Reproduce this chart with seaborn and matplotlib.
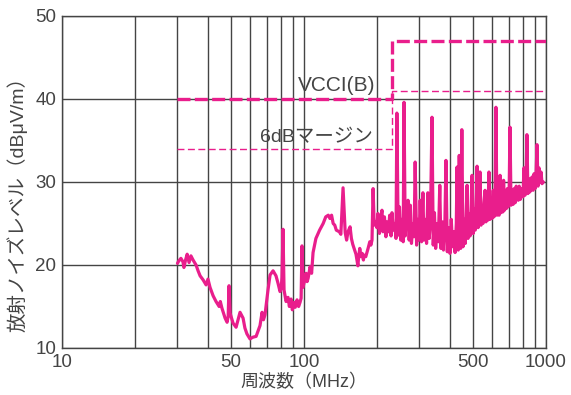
"""放射ノイズ測定結果 (VCCI クラスB 限度値との比較)."""
import matplotlib

matplotlib.use("Agg")
import matplotlib.pyplot as plt
import pandas as pd
import seaborn as sns

# 測定スペクトル (MHz, dBμV/m) - 図から読み取った値
freq_mhz = [
    30, 30.4, 31, 31.6, 31.9, 32.4, 32.9, 33.5, 34.1, 34.8, 35.8, 36.5, 37.2,
    38.3, 39.4, 40.1, 40.9, 42.1, 43.3, 44.6, 45.1, 45.8, 47.2, 48.1, 48.6,
    49.0, 49.5, 50.9, 52.4, 53.5, 54.4, 56.0, 57, 58.1, 59.8, 61.5, 63.4,
    64.5, 65.8, 67.1, 68, 69.0, 71.0, 72.4, 74.5, 76.6, 78.1, 79.6, 80.5,
    81.1, 81.9, 82.7, 84.3, 85.9, 87, 88.4, 89.5, 90.9, 92, 93.6, 95, 96.3,
    97.3, 98.1, 99.1, 102, 103, 104, 106, 107.5, 109, 112, 116, 120, 123,
    126, 128, 130, 132, 134, 136, 140, 142, 145, 148, 150, 152, 155, 157,
    159, 162, 164, 167, 168, 170, 172, 174, 176, 177, 180, 184, 187, 189,
    191, 193, 195, 198,
    200, 202, 205, 207, 210, 212, 215, 218, 220, 223, 226, 229, 231, 234,
    237, 240, 242, 245, 248, 251, 254, 257, 259, 262, 265, 269, 272, 275,
    278, 282, 285, 288, 292, 295, 299, 302, 306, 310, 313, 317, 321, 325,
    329, 333, 338, 342, 346, 350, 355, 359, 364, 368, 373, 377, 382, 386,
    391, 396, 401, 406, 411, 416, 421, 426, 429, 434, 438, 444, 449, 454,
    460, 464, 468, 472, 476, 481, 486, 490, 495, 500, 505, 510, 514, 519,
    524, 529, 534, 539, 544, 549, 554, 560, 565, 570, 575, 581, 587, 592,
    598, 605, 610, 616, 621, 627, 633, 640, 646, 652, 658, 664, 668, 674,
    680, 686, 692, 698, 704, 710, 717, 724, 731, 738, 746, 753, 760, 768,
    775, 783, 790, 795, 803, 811, 819, 827, 834, 842, 850, 858, 867, 875,
    884, 893, 901, 910, 918, 927, 936, 945, 954, 963, 975,
]
noise_db = [
    20.2, 20.5, 20.8, 20.4, 19.7, 20.6, 21.3, 20.3, 21.1, 20.6, 20.0, 19.3,
    18.7, 18.2, 17.6, 18.3, 17.3, 16.3, 15.6, 15.0, 15.6, 14.8, 13.6, 13.1,
    13.8, 17.5, 14.2, 13.0, 12.5, 13.5, 14.3, 13.6, 12.4, 11.7, 11.1, 11.3,
    11.4, 12.0, 12.7, 14.3, 13.4, 14.0, 17.0, 18.8, 19.3, 18.7, 17.8, 16.8,
    17.2, 18.5, 24.3, 17.0, 15.6, 16.1, 15.0, 15.9, 14.6, 15.5, 14.9, 15.8,
    15.0, 15.5, 16.0, 22.3, 17.3, 19.0, 18.0, 18.4, 19.8, 19.0, 21.5, 23.2,
    24.2, 25.0, 25.8, 26.0, 25.6, 26.0, 25.0, 24.8, 24.2, 24.0, 23.7, 29.3,
    23.9, 23.0, 24.0, 24.6, 23.2, 22.5, 21.8, 21.3, 19.9, 20.8, 22.0, 21.0,
    21.4, 20.6, 21.2, 21.0, 22.0, 22.8, 22.4, 23.0, 29.2, 24.8, 25.2,
    24.5, 26.2, 23.8, 25.5, 26.6, 24.0, 25.8, 23.4, 25.2, 24.0, 26.0, 23.5,
    26.3, 24.2, 25.0, 23.2, 38.3, 23.6, 27.0, 23.0, 25.5, 22.8, 39.6, 23.5,
    26.0, 27.8, 23.0, 27.2, 22.6, 25.0, 23.4, 32.4, 22.4, 25.5, 23.0, 27.8,
    22.8, 28.7, 23.0, 25.5, 22.6, 28.7, 23.2, 25.0, 37.8, 22.4, 26.3, 22.0,
    25.0, 22.8, 29.6, 22.0, 25.2, 21.8, 24.8, 32.6, 21.6, 24.5, 21.4, 25.5,
    22.2, 24.0, 21.5, 25.0, 31.8, 21.8, 33.2, 22.0, 36.3, 22.2, 25.5, 22.6,
    26.0, 29.6, 23.2, 26.2, 23.5, 26.5, 30.8, 23.8, 26.8, 24.2, 27.0, 31.9,
    24.5, 27.2, 31.2, 24.8, 27.0, 25.0, 27.5, 29.0, 25.2, 27.8, 25.4, 31.2,
    25.5, 28.0, 25.6, 29.0, 25.8, 28.0, 39.0, 26.0, 28.5, 26.0, 30.8, 26.3,
    28.6, 26.4, 30.2, 26.6, 28.8, 26.8, 29.2, 27.0, 28.5, 36.6, 27.2, 29.0,
    27.3, 29.2, 27.5, 29.5, 28.2, 27.8, 29.5, 27.9, 29.2, 28.7, 28.2, 31.7,
    28.4, 30.0, 35.7, 28.6, 30.4, 28.8, 30.2, 30.6, 29.0, 31.0, 29.2, 31.0,
    34.5, 29.5, 31.7, 30.0, 31.2, 29.8, 30.0,
]

# VCCI クラスB 限度値と 6dB マージン
limit_freq = [30, 230, 230, 1000]
vcci_db = [40, 40, 47, 47]
margin_db = [34, 34, 41, 41]

grid_freq = [20, 30, 40, 60, 70, 80, 90, 200, 300, 400, 600, 700, 800, 900]
xtick_freq = [10, 50, 100, 500, 1000]
ytick_db = [10, 20, 30, 40, 50]

MAGENTA = "#E91E8C"
GRAY = "#444444"

sns.set_theme(style="white")
plt.rcParams["font.family"] = ["Liberation Sans", "Noto Sans CJK JP"]

df = pd.DataFrame({"freq": freq_mhz, "level": noise_db})

fig = plt.figure(figsize=(5.71, 3.95), dpi=100)
ax = fig.add_axes([0.1086, 0.119, 0.8476, 0.8405])

sns.lineplot(data=df, x="freq", y="level", ax=ax, color=MAGENTA,
             linewidth=2.3, sort=False, estimator=None, zorder=3)
ax.plot(limit_freq, vcci_db, color=MAGENTA, linewidth=2.4,
        linestyle=(0, (3.9, 1.3)), zorder=4)
ax.plot(limit_freq, margin_db, color=MAGENTA, linewidth=1.0,
        linestyle=(0, (5, 2.5)), zorder=4)

ax.text(94.4, 41.6, "VCCI(B)", fontsize=15, color=GRAY, va="center")
ax.text(65.8, 35.4, "6dBマージン", fontsize=14, color=GRAY, va="center")

ax.set_xscale("log")
ax.set_xlim(10, 1000)
ax.set_ylim(10, 50)
ax.set_xticks(xtick_freq)
ax.set_xticklabels([str(v) for v in xtick_freq])
ax.set_xticks(grid_freq, minor=True)
ax.set_xticklabels([], minor=True)
ax.set_yticks(ytick_db)
ax.grid(True, which="both", axis="x", color=GRAY, linewidth=1.0)
ax.grid(True, which="major", axis="y", color=GRAY, linewidth=1.0)
ax.tick_params(which="both", length=0, labelsize=13.5, labelcolor=GRAY, pad=4)
for s in ax.spines.values():
    s.set_color(GRAY)
    s.set_linewidth(1.0)

ax.set_xlabel("周波数（MHz）", fontsize=13, color=GRAY, labelpad=2)
ax.set_ylabel("放射ノイズレベル（dBμV/m）", fontsize=14, color=GRAY)
ax.yaxis.set_label_coords(-0.072, 0.446)

fig.savefig("out.png", dpi=100)
plt.close(fig)
